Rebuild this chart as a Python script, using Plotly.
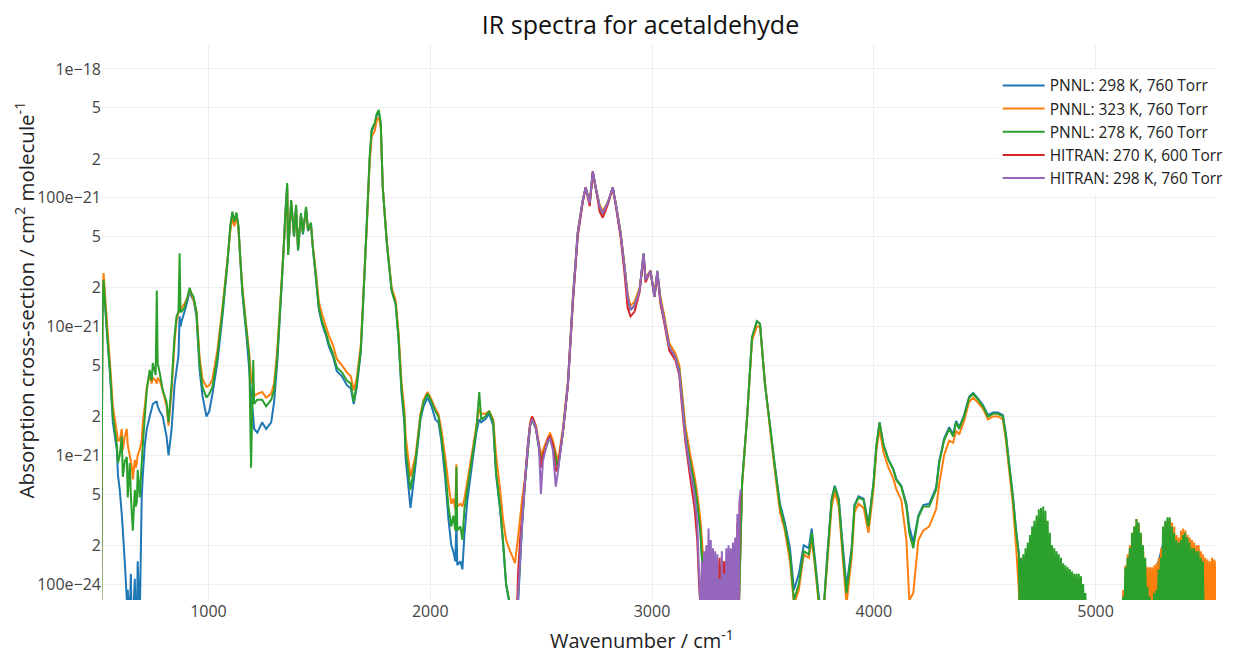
import plotly.graph_objects as go

# ---------------- PNNL data (shared wavenumber grid, cm-1) ----------------
wn_pnnl = [
    516, 522, 527, 542, 556, 569, 587, 592, 600, 609,
    614, 623, 632, 636, 645, 650, 654, 659, 668, 672,
    677, 681, 690, 699, 704, 713, 722, 735, 744, 749,
    762, 767, 771, 780, 794, 811, 820, 834, 847, 856,
    865, 870, 874, 879, 892, 906, 915, 924, 933, 946,
    960, 973, 991, 1004, 1018, 1040, 1063, 1085, 1099, 1108,
    1117, 1126, 1135, 1144, 1153, 1171, 1184, 1192, 1202, 1206,
    1220, 1242, 1260, 1283, 1296, 1310, 1328, 1341, 1346, 1355,
    1359, 1373, 1386, 1395, 1404, 1417, 1426, 1440, 1449, 1462,
    1471, 1485, 1498, 1512, 1530, 1543, 1561, 1579, 1602, 1624,
    1642, 1655, 1669, 1687, 1700, 1714, 1727, 1736, 1750, 1759,
    1768, 1777, 1786, 1804, 1826, 1844, 1857, 1871, 1884, 1889,
    1911, 1934, 1956, 1970, 1988, 2006, 2023, 2037, 2050, 2068,
    2082, 2095, 2104, 2113, 2118, 2122, 2136, 2145, 2154, 2167,
    2194, 2208, 2221, 2230, 2248, 2266, 2284, 2297, 2315, 2329,
    2342, 2360, 2373, 2382, 2396, 2414, 2427, 2450, 2459, 2477,
    2499, 2517, 2540, 2553, 2576, 2598, 2621, 2643, 2665, 2688,
    2701, 2719, 2733, 2746, 2764, 2778, 2800, 2823, 2836, 2858,
    2876, 2890, 2903, 2921, 2944, 2962, 2971, 2993, 3011, 3024,
    3038, 3056, 3078, 3105, 3123, 3137, 3150, 3173, 3191, 3204,
    3218, 3236, 3245, 3300, 3390, 3406, 3429, 3451, 3473, 3487,
    3509, 3532, 3554, 3577, 3599, 3622, 3640, 3662, 3684, 3707,
    3720, 3734, 3752, 3770, 3788, 3810, 3824, 3842, 3860, 3877,
    3900, 3913, 3931, 3954, 3976, 3999, 4012, 4026, 4044, 4066,
    4088, 4102, 4124, 4147, 4160, 4178, 4201, 4223, 4250, 4281,
    4295, 4317, 4340, 4358, 4371, 4385, 4407, 4430, 4448, 4470,
    4492, 4515, 4537, 4560, 4582, 4596, 4609, 4627, 4641, 4654,
]

# PNNL 298 K, 760 Torr (cm2 molecule-1)
sig_pnnl_298 = [
    5e-23, 1.2e-20, 2.2e-20, 9.0e-21, 4.3e-21, 1.8e-21, 1.1e-21, 7.0e-22, 5.4e-22, 3.5e-22,
    2.6e-22, 1.45e-22, 7.5e-23, 9e-23, 5e-23, 1.2e-22, 5e-23, 5e-23, 1.1e-22, 5e-23,
    5e-23, 1.5e-22, 5e-23, 4.7e-22, 7e-22, 1.2e-21, 1.6e-21, 2.0e-21, 2.3e-21, 2.5e-21,
    2.6e-21, 2.6e-21, 2.4e-21, 2.2e-21, 2.0e-21, 1.4e-21, 1.0e-21, 1.6e-21, 3.5e-21, 4.6e-21,
    6.0e-21, 1.2e-20, 1.0e-20, 1.1e-20, 1.3e-20, 1.6e-20, 1.9e-20, 1.7e-20, 1.6e-20, 1.2e-20,
    4.6e-21, 2.9e-21, 2.0e-21, 2.2e-21, 3.0e-21, 5.2e-21, 1.2e-20, 3.0e-20, 6.0e-20, 7.6e-20,
    6.4e-20, 7.5e-20, 6.0e-20, 3.2e-20, 1.8e-20, 8.6e-21, 4.6e-21, 3.0e-21, 2.0e-21, 1.6e-21,
    1.5e-21, 1.8e-21, 1.6e-21, 1.8e-21, 2.6e-21, 5.2e-21, 1.8e-20, 4.6e-20, 7.0e-20, 1.25e-19,
    3.6e-20, 9.3e-20, 5.0e-20, 8.6e-20, 3.9e-20, 7.4e-20, 5.2e-20, 8.3e-20, 5.5e-20, 6.2e-20,
    4.0e-20, 2.3e-20, 1.35e-20, 1.05e-20, 8.5e-21, 7.0e-21, 5.9e-21, 4.5e-21, 4.1e-21, 3.5e-21,
    3.3e-21, 2.5e-21, 3.4e-21, 6.4e-21, 1.9e-20, 6.3e-20, 2.0e-19, 3.3e-19, 3.7e-19, 4.4e-19,
    4.6e-19, 3.7e-19, 1.2e-19, 4.5e-20, 1.9e-20, 1.5e-20, 8.0e-21, 3.0e-21, 1.7e-21, 9.5e-22,
    3.9e-22, 8.5e-22, 1.9e-21, 2.4e-21, 2.8e-21, 2.4e-21, 1.9e-21, 1.8e-21, 1.3e-21, 6.5e-22,
    3.2e-22, 2.0e-22, 1.8e-22, 1.5e-22, 3.0e-22, 1.4e-22, 1.5e-22, 1.3e-22, 2.4e-22, 4.4e-22,
    1.0e-21, 1.5e-21, 1.9e-21, 1.8e-21, 1.9e-21, 2.1e-21, 1.7e-21, 7.0e-22, 3.8e-22, 2.0e-22,
    1.0e-22, 6.5e-23, 5e-23, 5e-23, 7e-23, 2.8e-22, 6.0e-22, 1.7e-21, 1.9e-21, 1.6e-21,
    9.0e-22, 1.1e-21, 1.4e-21, 1.2e-21, 8.0e-22, 1.5e-21, 3.6e-21, 1.6e-20, 5.3e-20, 9.5e-20,
    1.2e-19, 9.0e-20, 1.55e-19, 1.2e-19, 8.4e-20, 7.5e-20, 9.0e-20, 1.2e-19, 9.0e-20, 5.3e-20,
    2.9e-20, 1.7e-20, 1.35e-20, 1.45e-20, 1.9e-20, 3.6e-20, 2.3e-20, 2.7e-20, 1.7e-20, 2.6e-20,
    1.6e-20, 1.1e-20, 6.9e-21, 5.7e-21, 4.5e-21, 2.6e-21, 1.5e-21, 8.6e-22, 6.0e-22, 4.2e-22,
    2.6e-22, 7.5e-23, 5e-23, 3e-23, 5e-23, 6.0e-22, 2.0e-21, 8.2e-21, 1.1e-20, 1.05e-20,
    3.6e-21, 1.7e-21, 8.3e-22, 4.2e-22, 3.0e-22, 1.9e-22, 9e-23, 1.2e-22, 2.0e-22, 1.9e-22,
    2.7e-22, 1.6e-22, 8e-23, 5e-23, 1.5e-22, 4.6e-22, 5.8e-22, 4.6e-22, 2.0e-22, 9.5e-23,
    1.9e-22, 4.1e-22, 4.8e-22, 4.6e-22, 2.9e-22, 6.2e-22, 1.2e-21, 1.8e-21, 1.2e-21, 9.3e-22,
    7.8e-22, 6.5e-22, 5.8e-22, 4.2e-22, 2.8e-22, 2.1e-22, 3.4e-22, 4.1e-22, 4.2e-22, 5.6e-22,
    9.0e-22, 1.35e-21, 1.65e-21, 1.45e-21, 1.85e-21, 1.65e-21, 2.05e-21, 2.85e-21, 3.05e-21, 2.75e-21,
    2.45e-21, 2.05e-21, 2.15e-21, 2.15e-21, 2.05e-21, 1.45e-21, 9.0e-22, 4.9e-22, 2.7e-22, 1.7e-22,
]

# PNNL 323 K, 760 Torr
sig_pnnl_323 = [
    5e-23, 1.5e-20, 2.6e-20, 1.1e-20, 5.2e-21, 2.4e-21, 1.5e-21, 1.3e-21, 1.3e-21, 1.6e-21,
    1.1e-21, 1.4e-21, 1.6e-21, 1.2e-21, 1.0e-21, 9e-22, 8.3e-22, 6.5e-22, 9.2e-22, 8.0e-22,
    8.7e-22, 1.0e-21, 1.1e-21, 1.3e-21, 1.8e-21, 2.4e-21, 3.4e-21, 4.2e-21, 3.6e-21, 4.0e-21,
    3.8e-21, 3.6e-21, 4.0e-21, 3.8e-21, 3.2e-21, 2.4e-21, 1.7e-21, 3.2e-21, 7.5e-21, 1.1e-20,
    1.3e-20, 1.4e-20, 1.3e-20, 1.4e-20, 1.5e-20, 1.7e-20, 1.9e-20, 1.8e-20, 1.6e-20, 1.3e-20,
    5.8e-21, 3.9e-21, 3.4e-21, 3.5e-21, 3.9e-21, 6.5e-21, 1.4e-20, 3.2e-20, 5.6e-20, 7.0e-20,
    6.0e-20, 7.2e-20, 5.8e-20, 3.3e-20, 2.0e-20, 1.0e-20, 6.2e-21, 4.0e-21, 3.4e-21, 2.9e-21,
    3.0e-21, 3.1e-21, 2.8e-21, 3.0e-21, 3.6e-21, 6.5e-21, 2.0e-20, 4.6e-20, 6.8e-20, 1.2e-19,
    3.8e-20, 9.0e-20, 5.2e-20, 8.2e-20, 4.1e-20, 7.2e-20, 5.4e-20, 8.0e-20, 5.6e-20, 6.2e-20,
    4.2e-20, 2.6e-20, 1.55e-20, 1.25e-20, 1.0e-20, 8.5e-21, 7.2e-21, 5.6e-21, 5.0e-21, 4.4e-21,
    4.1e-21, 3.2e-21, 4.0e-21, 7.2e-21, 2.0e-20, 6.0e-20, 1.9e-19, 3.0e-19, 3.3e-19, 4.0e-19,
    4.2e-19, 3.5e-19, 1.2e-19, 4.6e-20, 2.0e-20, 1.6e-20, 9.0e-21, 3.6e-21, 2.2e-21, 1.4e-21,
    6.8e-22, 1.0e-21, 2.1e-21, 2.7e-21, 3.1e-21, 2.7e-21, 2.3e-21, 2.1e-21, 1.6e-21, 9.5e-22,
    6.0e-22, 4.2e-22, 4.6e-22, 3.8e-22, 8.5e-22, 4.0e-22, 4.2e-22, 4.0e-22, 4.6e-22, 6.2e-22,
    1.2e-21, 1.7e-21, 2.3e-21, 2.1e-21, 2.1e-21, 2.2e-21, 1.9e-21, 1.0e-21, 5.4e-22, 3.1e-22,
    2.2e-22, 1.8e-22, 1.6e-22, 1.45e-22, 2.3e-22, 4.5e-22, 6.6e-22, 1.8e-21, 2.0e-21, 1.7e-21,
    1.0e-21, 1.2e-21, 1.5e-21, 1.3e-21, 9.0e-22, 1.6e-21, 3.8e-21, 1.7e-20, 5.4e-20, 9.6e-20,
    1.2e-19, 9.3e-20, 1.5e-19, 1.2e-19, 8.8e-20, 7.9e-20, 9.2e-20, 1.15e-19, 9.2e-20, 5.5e-20,
    3.0e-20, 1.8e-20, 1.45e-20, 1.55e-20, 2.0e-20, 3.4e-20, 2.4e-20, 2.7e-20, 1.8e-20, 2.6e-20,
    1.7e-20, 1.2e-20, 7.4e-21, 6.2e-21, 5.0e-21, 2.9e-21, 1.7e-21, 1.0e-21, 7.0e-22, 5.0e-22,
    3.2e-22, 1.2e-22, 5e-23, 3e-23, 5e-23, 5.8e-22, 2.0e-21, 7.8e-21, 1.0e-20, 1.0e-20,
    3.7e-21, 1.6e-21, 7.5e-22, 3.6e-22, 2.6e-22, 1.5e-22, 7e-23, 9e-23, 1.7e-22, 1.6e-22,
    2.2e-22, 1.4e-22, 7e-23, 5e-23, 1.3e-22, 4.0e-22, 5.2e-22, 4.0e-22, 1.6e-22, 7e-23,
    1.6e-22, 3.6e-22, 4.2e-22, 3.9e-22, 2.5e-22, 5.5e-22, 1.1e-21, 1.6e-21, 1.05e-21, 8.0e-22,
    6.6e-22, 5.4e-22, 4.5e-22, 2.2e-22, 7.5e-23, 8.5e-23, 2.2e-22, 2.6e-22, 2.8e-22, 3.8e-22,
    6.0e-22, 1.0e-21, 1.3e-21, 1.25e-21, 1.55e-21, 1.45e-21, 1.85e-21, 2.6e-21, 2.8e-21, 2.55e-21,
    2.3e-21, 1.9e-21, 2.0e-21, 2.0e-21, 1.9e-21, 1.3e-21, 8.0e-22, 4.2e-22, 2.0e-22, 9e-23,
]

# PNNL 278 K, 760 Torr
sig_pnnl_278 = [
    5e-23, 1.2e-20, 2.3e-20, 9.4e-21, 4.6e-21, 2.0e-21, 1.2e-21, 8.7e-22, 1.0e-21, 1.4e-21,
    6.8e-22, 9.0e-22, 9.7e-22, 4.7e-22, 8.7e-22, 5e-22, 3.6e-22, 2.6e-22, 5.4e-22, 4.0e-22,
    4.3e-22, 7.7e-22, 4.7e-22, 8.7e-22, 1.2e-21, 2.0e-21, 3.2e-21, 4.6e-21, 3.8e-21, 5.2e-21,
    4.2e-21, 1.9e-20, 5.2e-21, 4.4e-21, 3.2e-21, 2.6e-21, 1.8e-21, 3.6e-21, 8.3e-21, 1.2e-20,
    1.3e-20, 3.7e-20, 1.3e-20, 1.3e-20, 1.4e-20, 1.7e-20, 2.0e-20, 1.8e-20, 1.7e-20, 1.3e-20,
    5.2e-21, 3.4e-21, 2.8e-21, 3.0e-21, 3.4e-21, 5.8e-21, 1.3e-20, 3.1e-20, 6.1e-20, 7.8e-20,
    6.5e-20, 7.7e-20, 6.1e-20, 3.3e-20, 1.9e-20, 9.4e-21, 5.8e-21, 8.0e-22, 5.5e-21, 2.5e-21,
    2.7e-21, 2.7e-21, 2.4e-21, 2.7e-21, 3.2e-21, 5.8e-21, 1.9e-20, 4.7e-20, 7.3e-20, 1.3e-19,
    3.6e-20, 9.6e-20, 5.0e-20, 8.8e-20, 3.9e-20, 7.6e-20, 5.3e-20, 8.5e-20, 5.6e-20, 6.4e-20,
    4.1e-20, 2.4e-20, 1.4e-20, 1.1e-20, 8.9e-21, 7.4e-21, 6.2e-21, 4.8e-21, 4.4e-21, 3.8e-21,
    3.6e-21, 2.6e-21, 3.6e-21, 6.6e-21, 1.9e-20, 6.4e-20, 2.1e-19, 3.4e-19, 3.8e-19, 4.5e-19,
    4.8e-19, 3.8e-19, 1.2e-19, 4.5e-20, 1.9e-20, 1.5e-20, 8.3e-21, 3.2e-21, 1.9e-21, 1.1e-21,
    5.4e-22, 9.2e-22, 2.0e-21, 2.6e-21, 3.0e-21, 2.6e-21, 2.2e-21, 2.0e-21, 1.4e-21, 7.7e-22,
    4.0e-22, 2.8e-22, 3.4e-22, 2.6e-22, 8.1e-22, 2.6e-22, 2.8e-22, 2.2e-22, 3.8e-22, 5.4e-22,
    1.1e-21, 1.6e-21, 3.1e-21, 1.9e-21, 2.0e-21, 2.2e-21, 1.8e-21, 7.3e-22, 4.0e-22, 2.1e-22,
    1.0e-22, 6.9e-23, 5e-23, 5e-23, 8e-23, 3.0e-22, 6.1e-22, 1.7e-21, 1.9e-21, 1.6e-21,
    9.2e-22, 1.1e-21, 1.4e-21, 1.2e-21, 8.1e-22, 1.5e-21, 3.6e-21, 1.6e-20, 5.3e-20, 9.6e-20,
    1.2e-19, 9.1e-20, 1.6e-19, 1.2e-19, 8.5e-20, 7.6e-20, 9.1e-20, 1.2e-19, 9.1e-20, 5.3e-20,
    2.9e-20, 1.7e-20, 1.35e-20, 1.45e-20, 1.9e-20, 3.7e-20, 2.3e-20, 2.7e-20, 1.7e-20, 2.7e-20,
    1.6e-20, 1.1e-20, 6.9e-21, 5.8e-21, 4.6e-21, 2.6e-21, 1.5e-21, 8.7e-22, 6.1e-22, 4.3e-22,
    2.6e-22, 7.5e-23, 5e-23, 3e-23, 5e-23, 6.1e-22, 2.0e-21, 8.3e-21, 1.1e-20, 1.05e-20,
    3.6e-21, 1.7e-21, 8.1e-22, 4.0e-22, 2.8e-22, 1.7e-22, 7.5e-23, 1.0e-22, 1.8e-22, 1.7e-22,
    2.5e-22, 1.5e-22, 7.5e-23, 5e-23, 1.4e-22, 4.5e-22, 5.7e-22, 4.5e-22, 1.8e-22, 8.5e-23,
    1.8e-22, 4.0e-22, 4.7e-22, 4.5e-22, 2.8e-22, 6.1e-22, 1.2e-21, 1.8e-21, 1.2e-21, 9.2e-22,
    7.7e-22, 6.4e-22, 5.7e-22, 4.0e-22, 2.5e-22, 1.9e-22, 3.3e-22, 4.0e-22, 4.0e-22, 5.4e-22,
    8.7e-22, 1.3e-21, 1.6e-21, 1.4e-21, 1.8e-21, 1.6e-21, 2.0e-21, 2.8e-21, 3.0e-21, 2.7e-21,
    2.4e-21, 2.0e-21, 2.1e-21, 2.1e-21, 2.0e-21, 1.4e-21, 8.7e-22, 4.7e-22, 2.6e-22, 1.7e-22,
]

# Noisy high-wavenumber tails (read tooth by tooth)
wn_pnnl_298_tail = [4662, 4672, 4680, 4720, 4728, 4760, 4768, 4800, 4808, 4900,
                    5120, 5188, 5196, 5330, 5338, 5560]
sig_pnnl_298_tail = [4e-23, 1.5e-22, 4e-23, 2.8e-22, 4e-23, 3.6e-22, 4e-23, 2.0e-22, 4e-23, 4e-23,
                     4e-23, 3.0e-22, 4e-23, 3.0e-22, 4e-23, 4e-23]

wn_pnnl_323_tail = [
    4659, 4664, 4669, 4674, 4679, 4684, 4689, 4694, 4699, 4704,
    4709, 4714, 4719, 4724, 4729, 4734, 4739, 4744, 4749, 4754,
    4759, 4764, 4769, 4774, 4779, 4784, 4789, 4794, 4799, 4804,
    4809, 4814, 4830, 4850, 4870, 4890, 4910, 5000, 5115, 5125,
    5130, 5135, 5140, 5145, 5150, 5155, 5160, 5165, 5170, 5175,
    5180, 5185, 5190, 5195, 5200, 5205, 5210, 5215, 5220, 5225,
    5230, 5235, 5240, 5245, 5250, 5255, 5260, 5265, 5270, 5275,
    5280, 5285, 5290, 5295, 5300, 5305, 5310, 5315, 5320, 5325,
    5330, 5335, 5340, 5345, 5350, 5355, 5360, 5365, 5370, 5375,
    5380, 5385, 5390, 5395, 5400, 5405, 5410, 5415, 5420, 5425,
    5430, 5435, 5440, 5445, 5450, 5455, 5460, 5465, 5470, 5475,
    5480, 5485, 5490, 5495, 5500, 5505, 5510, 5515, 5520, 5525,
    5530, 5535, 5540, 5545, 5550, 5555, 5560,
]
sig_pnnl_323_tail = [
    4e-23, 5e-23, 4e-23, 6e-23, 4e-23, 8e-23, 4e-23, 1.1e-22, 4e-23, 1.4e-22,
    4e-23, 1.7e-22, 4e-23, 2.0e-22, 4e-23, 2.2e-22, 4e-23, 2.4e-22, 4e-23, 2.6e-22,
    4e-23, 2.4e-22, 4e-23, 2.1e-22, 4e-23, 1.7e-22, 4e-23, 1.3e-22, 4e-23, 1.0e-22,
    4e-23, 8e-23, 4e-23, 8e-23, 4e-23, 8e-23, 4e-23, 3e-23, 3e-23, 9e-23,
    4e-23, 1.4e-22, 4e-23, 1.7e-22, 4e-23, 2.0e-22, 4e-23, 2.5e-22, 4e-23, 2.8e-22,
    4e-23, 3.2e-22, 4e-23, 2.9e-22, 4e-23, 2.4e-22, 4e-23, 1.8e-22, 4e-23, 1.4e-22,
    4e-23, 1.35e-22, 4e-23, 1.35e-22, 4e-23, 1.35e-22, 4e-23, 1.4e-22, 4e-23, 1.45e-22,
    4e-23, 1.6e-22, 4e-23, 1.9e-22, 4e-23, 2.4e-22, 4e-23, 3.0e-22, 4e-23, 3.1e-22,
    4e-23, 3.2e-22, 4e-23, 3.0e-22, 4e-23, 2.8e-22, 4e-23, 2.4e-22, 4e-23, 2.3e-22,
    4e-23, 2.6e-22, 4e-23, 2.7e-22, 4e-23, 2.6e-22, 4e-23, 2.4e-22, 4e-23, 2.3e-22,
    4e-23, 2.2e-22, 4e-23, 2.1e-22, 4e-23, 2.0e-22, 4e-23, 2.0e-22, 4e-23, 1.8e-22,
    4e-23, 1.7e-22, 4e-23, 1.6e-22, 4e-23, 1.55e-22, 4e-23, 1.5e-22, 4e-23, 1.6e-22,
    4e-23, 1.55e-22, 4e-23, 1.5e-22, 4e-23, 1.4e-22, 4e-23,
]

wn_pnnl_278_tail = [
    4659, 4664, 4669, 4674, 4679, 4684, 4689, 4694, 4699, 4704,
    4709, 4714, 4719, 4724, 4729, 4734, 4739, 4744, 4749, 4754,
    4759, 4764, 4769, 4774, 4779, 4784, 4789, 4794, 4799, 4804,
    4809, 4814, 4819, 4824, 4829, 4834, 4839, 4844, 4849, 4854,
    4859, 4864, 4869, 4874, 4879, 4884, 4889, 4894, 4899, 4904,
    4909, 4914, 4919, 4924, 4929, 4934, 4939, 4944, 4949, 4954,
    4959, 5050, 5115, 5124, 5129, 5134, 5139, 5144, 5149, 5154,
    5159, 5164, 5169, 5174, 5179, 5184, 5189, 5194, 5199, 5204,
    5209, 5214, 5219, 5224, 5229, 5234, 5239, 5244, 5249, 5254,
    5259, 5264, 5269, 5274, 5279, 5284, 5289, 5294, 5299, 5304,
    5309, 5314, 5319, 5324, 5329, 5334, 5339, 5344, 5349, 5354,
    5359, 5364, 5369, 5374, 5379, 5384, 5389, 5394, 5399, 5404,
    5409, 5414, 5419, 5424, 5429, 5434, 5439, 5444, 5449, 5454,
    5459, 5464, 5469, 5474, 5479, 5484, 5489, 5560,
]
sig_pnnl_278_tail = [
    4e-23, 1.6e-22, 4e-23, 1.7e-22, 4e-23, 1.9e-22, 4e-23, 2.1e-22, 4e-23, 2.4e-22,
    4e-23, 2.8e-22, 4e-23, 3.1e-22, 4e-23, 3.4e-22, 4e-23, 3.8e-22, 4e-23, 3.9e-22,
    4e-23, 4.0e-22, 4e-23, 3.7e-22, 4e-23, 3.1e-22, 4e-23, 2.5e-22, 4e-23, 2.0e-22,
    4e-23, 1.9e-22, 4e-23, 1.8e-22, 4e-23, 1.7e-22, 4e-23, 1.6e-22, 4e-23, 1.45e-22,
    4e-23, 1.4e-22, 4e-23, 1.35e-22, 4e-23, 1.3e-22, 4e-23, 1.25e-22, 4e-23, 1.2e-22,
    4e-23, 1.2e-22, 4e-23, 1.2e-22, 4e-23, 1.15e-22, 4e-23, 1.0e-22, 4e-23, 8.5e-23,
    4e-23, 3e-23, 3e-23, 8e-23, 4e-23, 1.35e-22, 4e-23, 1.6e-22, 4e-23, 1.9e-22,
    4e-23, 2.5e-22, 4e-23, 2.8e-22, 4e-23, 3.2e-22, 4e-23, 3.0e-22, 4e-23, 2.5e-22,
    4e-23, 2.0e-22, 4e-23, 1.6e-22, 4e-23, 9.5e-23, 4e-23, 8e-23, 4e-23, 7.5e-23,
    4e-23, 8.5e-23, 4e-23, 9e-23, 4e-23, 1.3e-22, 4e-23, 1.6e-22, 4e-23, 2.8e-22,
    4e-23, 3.1e-22, 4e-23, 3.3e-22, 4e-23, 3.3e-22, 4e-23, 2.8e-22, 4e-23, 2.5e-22,
    4e-23, 2.2e-22, 4e-23, 2.1e-22, 4e-23, 2.2e-22, 4e-23, 2.4e-22, 4e-23, 2.5e-22,
    4e-23, 2.3e-22, 4e-23, 2.1e-22, 4e-23, 1.9e-22, 4e-23, 1.9e-22, 4e-23, 1.8e-22,
    4e-23, 1.8e-22, 4e-23, 1.6e-22, 4e-23, 1.5e-22, 4e-23, 4e-23,
]

# ---------------- HITRAN data ----------------
wn_hitran = [
    2390, 2396, 2405, 2414, 2427, 2440, 2450, 2459, 2468, 2477,
    2490, 2499, 2508, 2517, 2530, 2540, 2553, 2566, 2576, 2585,
    2598, 2621, 2643, 2665, 2688, 2701, 2719, 2733, 2746, 2764,
    2778, 2800, 2823, 2836, 2858, 2876, 2890, 2903, 2921, 2944,
    2962, 2971, 2993, 3011, 3024, 3038, 3056, 3078, 3105, 3123,
    3137, 3150, 3173, 3191, 3204, 3212, 3220, 3225, 3230, 3235,
    3240, 3245, 3250, 3255, 3260, 3265, 3270, 3275, 3280, 3285,
    3290, 3295, 3300, 3305, 3310, 3315, 3320, 3325, 3330, 3335,
    3340, 3345, 3350, 3355, 3360, 3365, 3370, 3375, 3380, 3385,
    3390, 3395, 3400,
]
sig_hitran_270 = [
    5e-23, 1.2e-22, 2.2e-22, 3.3e-22, 6.3e-22, 1.2e-21, 1.7e-21, 2.0e-21, 1.85e-21, 1.6e-21,
    1.2e-21, 8.0e-22, 1.0e-21, 1.1e-21, 1.35e-21, 1.4e-21, 1.2e-21, 7.5e-22, 8.1e-22, 1.05e-21,
    1.5e-21, 3.5e-21, 1.5e-20, 5.0e-20, 9.3e-20, 1.2e-19, 8.6e-20, 1.6e-19, 1.2e-19, 7.8e-20,
    7.0e-20, 8.8e-20, 1.2e-19, 8.8e-20, 5.0e-20, 2.6e-20, 1.4e-20, 1.2e-20, 1.3e-20, 1.85e-20,
    3.6e-20, 2.2e-20, 2.7e-20, 1.7e-20, 2.6e-20, 1.5e-20, 1.05e-20, 6.5e-21, 5.5e-21, 4.2e-21,
    2.2e-21, 1.3e-21, 6.5e-22, 4.0e-22, 2.2e-22, 1.0e-22, 6e-23, 1.3e-22, 4e-23, 1.7e-22,
    4e-23, 1.8e-22, 4e-23, 2.0e-22, 4e-23, 1.7e-22, 4e-23, 1.5e-22, 4e-23, 1.5e-22,
    4e-23, 1.5e-22, 4e-23, 1.6e-22, 4e-23, 1.4e-22, 4e-23, 1.5e-22, 4e-23, 1.5e-22,
    4e-23, 1.6e-22, 4e-23, 1.5e-22, 4e-23, 1.8e-22, 4e-23, 2.0e-22, 4e-23, 3.0e-22,
    4e-23, 4.2e-22, 5.0e-22,
]
sig_hitran_298 = [
    5e-23, 8e-23, 1.5e-22, 3.0e-22, 6.1e-22, 1.2e-21, 1.7e-21, 1.9e-21, 1.8e-21, 1.6e-21,
    1.2e-21, 5.0e-22, 9.0e-22, 1.05e-21, 1.3e-21, 1.35e-21, 1.1e-21, 5.7e-22, 7.5e-22, 1.0e-21,
    1.5e-21, 3.6e-21, 1.6e-20, 5.3e-20, 9.6e-20, 1.2e-19, 9.1e-20, 1.6e-19, 1.2e-19, 8.5e-20,
    7.6e-20, 9.1e-20, 1.2e-19, 9.1e-20, 5.3e-20, 2.9e-20, 1.7e-20, 1.35e-20, 1.45e-20, 1.9e-20,
    3.7e-20, 2.3e-20, 2.7e-20, 1.7e-20, 2.7e-20, 1.6e-20, 1.1e-20, 6.9e-21, 5.8e-21, 4.4e-21,
    2.4e-21, 1.4e-21, 7.5e-22, 5.0e-22, 3.0e-22, 1.2e-22, 6e-23, 1.5e-22, 4e-23, 1.8e-22,
    4e-23, 2.0e-22, 4e-23, 2.7e-22, 4e-23, 2.2e-22, 4e-23, 1.9e-22, 4e-23, 1.8e-22,
    4e-23, 1.7e-22, 4e-23, 1.1e-22, 4e-23, 1.8e-22, 4e-23, 1.2e-22, 4e-23, 1.9e-22,
    4e-23, 2.0e-22, 4e-23, 1.9e-22, 4e-23, 2.1e-22, 4e-23, 2.3e-22, 4e-23, 3.5e-22,
    4e-23, 4.5e-22, 5.4e-22,
]

series_names = [
    "PNNL: 298 K, 760 Torr",
    "PNNL: 323 K, 760 Torr",
    "PNNL: 278 K, 760 Torr",
    "HITRAN: 270 K, 600 Torr",
    "HITRAN: 298 K, 760 Torr",
]
series_colors = ["#1f77b4", "#ff7f0e", "#2ca02c", "#d62728", "#9467bd"]

x_tick_vals = [1000, 2000, 3000, 4000, 5000]
y_tick_vals = [1e-22, 2e-22, 5e-22, 1e-21, 2e-21, 5e-21, 1e-20, 2e-20, 5e-20,
               1e-19, 2e-19, 5e-19, 1e-18]
y_tick_text = ["100e\u221224", "2", "5", "1e\u221221", "2", "5", "10e\u221221", "2", "5",
               "100e\u221221", "2", "5", "1e\u221218"]
x_range = [520, 5543]
y_range_log = [-22.124, -17.814]

series_x = [
    wn_pnnl + wn_pnnl_298_tail,
    wn_pnnl + wn_pnnl_323_tail,
    wn_pnnl + wn_pnnl_278_tail,
    wn_hitran,
    wn_hitran,
]
series_y = [
    sig_pnnl_298 + sig_pnnl_298_tail,
    sig_pnnl_323 + sig_pnnl_323_tail,
    sig_pnnl_278 + sig_pnnl_278_tail,
    sig_hitran_270,
    sig_hitran_298,
]

fig = go.Figure()
for name, color, xs, ys in zip(series_names, series_colors, series_x, series_y):
    assert len(xs) == len(ys), name
    fig.add_trace(go.Scatter(x=xs, y=ys, mode="lines", name=name,
                             line=dict(color=color, width=2, simplify=False)))

fig.update_layout(
    width=1233, height=645,
    margin=dict(l=94, r=20, t=37, b=53),
    paper_bgcolor="white", plot_bgcolor="white",
    font=dict(family="Open Sans, sans-serif", color="#444", size=16),
    title=dict(text="IR spectra for acetaldehyde", x=0.513, xanchor="center",
               y=0.974, yanchor="middle", font=dict(size=25, color="#111")),
    legend=dict(x=0.804, y=0.957, xanchor="left", yanchor="top",
                bgcolor="white", font=dict(size=15.5, color="#222"),
                itemwidth=42, tracegroupgap=0),
    showlegend=True,
    annotations=[
        dict(text="Wavenumber / cm<sup>-1</sup>", xref="paper", yref="paper",
             x=0.4844, y=-0.0703, xanchor="center", yanchor="middle",
             showarrow=False, font=dict(size=20, color="#222")),
        dict(text="Absorption cross-section / cm<sup>2</sup> molecule<sup>-1</sup>",
             xref="paper", yref="paper", x=-0.0688, y=0.5405, textangle=-90,
             xanchor="center", yanchor="middle", showarrow=False,
             font=dict(size=20.5, color="#222")),
    ],
)
fig.update_xaxes(
    range=x_range, tickvals=x_tick_vals, showgrid=True, gridcolor="#eee",
    zeroline=False, showline=False, ticks="", automargin=False,
    tickfont=dict(size=16, color="#444"),
)
fig.update_yaxes(
    type="log", range=y_range_log, tickvals=y_tick_vals, ticktext=y_tick_text,
    showgrid=True, gridcolor="#eee",
    zeroline=False, showline=False, ticks="", automargin=False,
    tickfont=dict(size=16, color="#444"),
)

fig.write_html("out.html")
